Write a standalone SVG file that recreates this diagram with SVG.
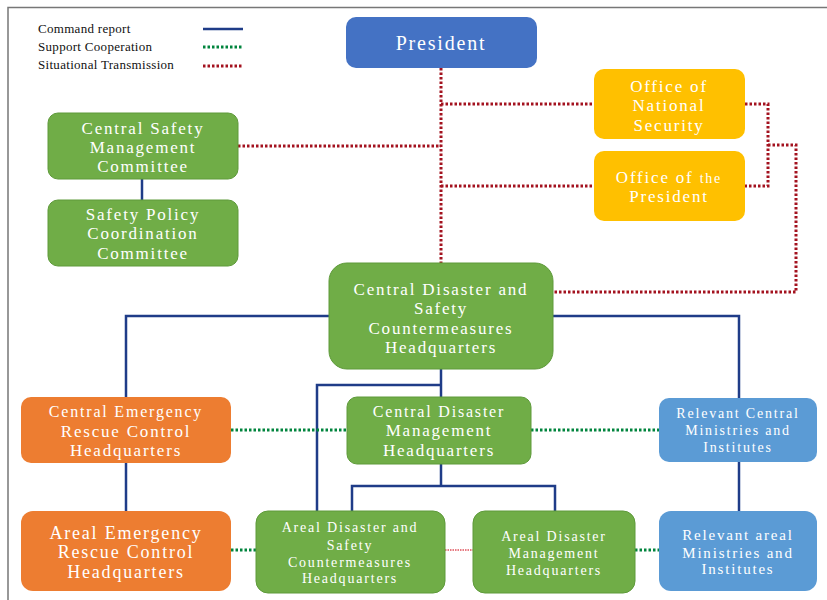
<svg xmlns="http://www.w3.org/2000/svg" width="827" height="600" viewBox="0 0 827 600">
<style>
.t{font-family:"Liberation Serif","Times New Roman",serif;fill:#fff;text-anchor:middle;letter-spacing:1.8px}
.l{font-family:"Liberation Serif","Times New Roman",serif;fill:#111;font-size:13px;letter-spacing:0.3px}
.cmd{stroke:#1F3C88;stroke-width:2.5;fill:none}
.sup{stroke:#00843D;stroke-width:3;stroke-dasharray:2.5 2;fill:none}
.sit{stroke:#A3121F;stroke-width:3;stroke-dasharray:2.5 2;fill:none}
.sit2{stroke:#E0505A;stroke-width:1.5;stroke-dasharray:1.5 1;fill:none}
.g{fill:#70AD47;stroke:#5E9A3A;stroke-width:1}
.o{fill:#ED7D31}
.y{fill:#FFC000}
.b{fill:#5B9BD5}
</style>
<rect width="827" height="600" fill="#fff"/>
<path d="M8,600 V7.5 H827" stroke="#777" stroke-width="1.5" fill="none"/>
<g id="legend">
<text class="l" x="38" y="33">Command report</text>
<text class="l" x="38" y="51">Support Cooperation</text>
<text class="l" x="38" y="69">Situational Transmission</text>
<line class="cmd" x1="203" y1="29" x2="243" y2="29"/>
<line class="sup" x1="203" y1="47" x2="243" y2="47"/>
<line class="sit" x1="203" y1="66" x2="243" y2="66"/>
</g>
<g id="connectors">
<path class="sit" d="M441,68 V263"/>
<path class="sit" d="M441,104 H594"/>
<path class="sit" d="M441,186 H594"/>
<path class="sit" d="M238,146 H441"/>
<path class="sit" d="M745,104 H768 V186 H745"/>
<path class="sit" d="M768,145 H796 V292 H553"/>
<path class="cmd" d="M142,179 V200"/>
<path class="cmd" d="M329,316 H126 V397"/>
<path class="cmd" d="M553,316 H739 V398"/>
<path class="cmd" d="M441,369 V397"/>
<path class="cmd" d="M441,385 H317 V511"/>
<path class="cmd" d="M441,464 V486 M352,511 V486 H555 V511"/>
<path class="cmd" d="M126,463 V511"/>
<path class="cmd" d="M739,462 V511"/>
<path class="sup" d="M231,430 H347"/>
<path class="sup" d="M531,430 H659"/>
<path class="sup" d="M231,550 H256"/>
<path class="sup" d="M635,550 H659"/>
<path class="sit2" d="M445,550 H473"/>
</g>
<g id="president">
<rect x="346" y="17" width="191" height="51" rx="10" fill="#4472C4"/>
<text class="t" x="441" y="50" font-size="20">President</text>
</g>
<g id="office-national-security">
<rect class="y" x="594" y="69" width="151" height="70" rx="10"/>
<text class="t" x="669" y="92" font-size="17">Office of</text>
<text class="t" x="669" y="111" font-size="17">National</text>
<text class="t" x="669" y="131" font-size="17">Security</text>
</g>
<g id="office-president">
<rect class="y" x="594" y="151" width="151" height="70" rx="10"/>
<text class="t" x="669" y="183" font-size="17">Office of <tspan font-size="14">the</tspan></text>
<text class="t" x="669" y="202" font-size="17">President</text>
</g>
<g id="central-safety-management">
<rect class="g" x="48" y="113" width="190" height="66" rx="10"/>
<text class="t" x="143" y="134" font-size="17">Central Safety</text>
<text class="t" x="143" y="153" font-size="17">Management</text>
<text class="t" x="143" y="172" font-size="17">Committee</text>
</g>
<g id="safety-policy">
<rect class="g" x="48" y="200" width="190" height="66" rx="10"/>
<text class="t" x="143" y="220" font-size="17">Safety Policy</text>
<text class="t" x="143" y="239" font-size="17">Coordination</text>
<text class="t" x="143" y="259" font-size="17">Committee</text>
</g>
<g id="cdsch">
<rect class="g" x="329" y="263" width="224" height="106" rx="18"/>
<text class="t" x="441" y="295" font-size="17">Central Disaster and</text>
<text class="t" x="441" y="314" font-size="17">Safety</text>
<text class="t" x="441" y="334" font-size="17">Countermeasures</text>
<text class="t" x="441" y="353" font-size="17">Headquarters</text>
</g>
<g id="cerch">
<rect class="o" x="21" y="397" width="210" height="66" rx="10"/>
<text class="t" x="126" y="417" font-size="16">Central Emergency</text>
<text class="t" x="126" y="437" font-size="17">Rescue Control</text>
<text class="t" x="126" y="456" font-size="17">Headquarters</text>
</g>
<g id="cdmh">
<rect class="g" x="347" y="397" width="184" height="67" rx="10"/>
<text class="t" x="439" y="417" font-size="16">Central Disaster</text>
<text class="t" x="439" y="436" font-size="17">Management</text>
<text class="t" x="439" y="456" font-size="17">Headquarters</text>
</g>
<g id="rcmi">
<rect class="b" x="659" y="398" width="158" height="64" rx="10"/>
<text class="t" x="738" y="418" font-size="14">Relevant Central</text>
<text class="t" x="738" y="435" font-size="14">Ministries  and</text>
<text class="t" x="738" y="452" font-size="14">Institutes</text>
</g>
<g id="aerch">
<rect class="o" x="21" y="511" width="210" height="80" rx="12"/>
<text class="t" x="126" y="539" font-size="18">Areal Emergency</text>
<text class="t" x="126" y="558" font-size="18">Rescue Control</text>
<text class="t" x="126" y="578" font-size="18">Headquarters</text>
</g>
<g id="adsch">
<rect class="g" x="256" y="511" width="189" height="82" rx="12"/>
<text class="t" x="350" y="532" font-size="14">Areal Disaster and</text>
<text class="t" x="350" y="550" font-size="14">Safety</text>
<text class="t" x="350" y="567" font-size="14">Countermeasures</text>
<text class="t" x="350" y="583" font-size="14">Headquarters</text>
</g>
<g id="admh">
<rect class="g" x="473" y="511" width="162" height="82" rx="12"/>
<text class="t" x="554" y="541" font-size="14">Areal Disaster</text>
<text class="t" x="554" y="558" font-size="14">Management</text>
<text class="t" x="554" y="575" font-size="14">Headquarters</text>
</g>
<g id="rami">
<rect class="b" x="659" y="511" width="158" height="80" rx="12"/>
<text class="t" x="738" y="540" font-size="15">Relevant  areal</text>
<text class="t" x="738" y="558" font-size="15">Ministries  and</text>
<text class="t" x="738" y="574" font-size="15">Institutes</text>
</g>
</svg>
